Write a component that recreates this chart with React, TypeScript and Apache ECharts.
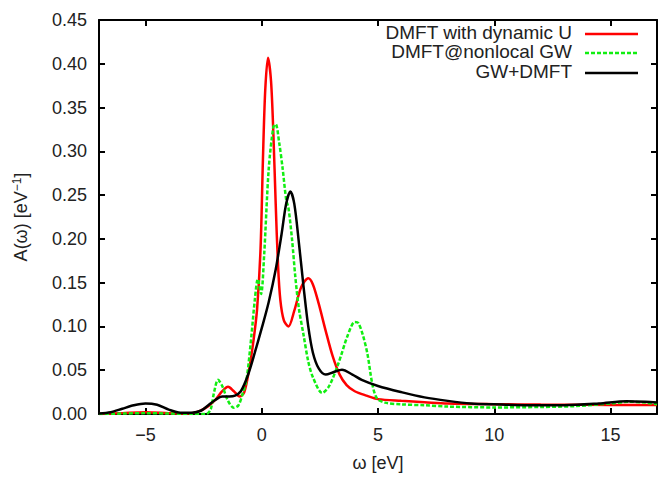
import React, { useEffect, useRef } from "react";
import * as echarts from "echarts";

const seriesNames = ["DMFT with dynamic U", "DMFT@nonlocal GW", "GW+DMFT"];
const xTicks = [-5, 0, 5, 10, 15];

const redData: [number, number][] = [
  [-7, 0.0], [-6, 0.001], [-5, 0.002], [-4, 0.001], [-3.2, 0.0005], [-2.7, 0.003],
  [-2.3, 0.009], [-2.0, 0.016], [-1.7, 0.026], [-1.45, 0.031], [-1.2, 0.026],
  [-0.95, 0.02], [-0.75, 0.025], [-0.55, 0.05], [-0.35, 0.085], [-0.2, 0.12],
  [-0.05, 0.19], [0.05, 0.29], [0.15, 0.37], [0.27, 0.407], [0.4, 0.38], [0.5, 0.32],
  [0.6, 0.24], [0.7, 0.17], [0.8, 0.13], [0.95, 0.107], [1.15, 0.1], [1.4, 0.118],
  [1.7, 0.145], [2.0, 0.155], [2.2, 0.148], [2.45, 0.126], [2.75, 0.095], [3.05, 0.066],
  [3.35, 0.045], [3.65, 0.033], [4.0, 0.026], [4.5, 0.021], [5.0, 0.017], [6, 0.015],
  [7, 0.0135], [8, 0.012], [10, 0.0112], [12, 0.0108], [14, 0.0105], [16, 0.0103], [17, 0.0102],
];

const greenData: [number, number][] = [
  [-7, 0.0], [-6, 0.0005], [-5, 0.001], [-4, 0.0005], [-3, 0.0], [-2.4, 0.0],
  [-2.2, 0.005], [-2.05, 0.025], [-1.88, 0.039], [-1.7, 0.032], [-1.45, 0.015],
  [-1.2, 0.007], [-1.0, 0.01], [-0.8, 0.025], [-0.65, 0.04], [-0.45, 0.088],
  [-0.3, 0.13], [-0.17, 0.154], [-0.03, 0.137], [0.1, 0.18], [0.3, 0.28], [0.5, 0.328],
  [0.6, 0.331], [0.75, 0.31], [0.9, 0.28], [1.05, 0.245], [1.15, 0.235], [1.3, 0.2],
  [1.45, 0.155], [1.6, 0.12], [1.8, 0.09], [2.0, 0.06], [2.2, 0.042], [2.6, 0.024],
  [2.9, 0.032], [3.3, 0.058], [3.7, 0.09], [4.0, 0.105], [4.15, 0.104], [4.35, 0.09],
  [4.55, 0.068], [4.75, 0.035], [4.95, 0.018], [5.3, 0.013], [6, 0.011], [7, 0.01],
  [8, 0.0085], [10, 0.0075], [12, 0.008], [13.5, 0.009], [15, 0.012], [15.8, 0.014],
  [16.5, 0.013], [17, 0.011],
];

const blackData: [number, number][] = [
  [-7, 0.0005], [-6.5, 0.002], [-6, 0.006], [-5.5, 0.01], [-5.0, 0.012], [-4.5, 0.0105],
  [-4.0, 0.005], [-3.5, 0.0015], [-3.0, 0.0015], [-2.6, 0.004], [-2.3, 0.01], [-2.0, 0.016],
  [-1.7, 0.02], [-1.4, 0.02], [-1.15, 0.021], [-0.9, 0.026], [-0.6, 0.044], [-0.3, 0.07],
  [0.0, 0.098], [0.3, 0.128], [0.6, 0.165], [0.85, 0.205], [1.05, 0.24], [1.23, 0.254],
  [1.4, 0.24], [1.6, 0.195], [1.8, 0.145], [2.0, 0.1], [2.2, 0.07], [2.45, 0.052],
  [2.75, 0.045], [3.1, 0.048], [3.45, 0.0505], [3.9, 0.045], [4.3, 0.039], [5.0, 0.032],
  [6.0, 0.025], [7.0, 0.019], [8.0, 0.015], [9.0, 0.012], [10, 0.011], [11.5, 0.01],
  [13, 0.01], [14.5, 0.012], [15.7, 0.0147], [16.5, 0.014], [17, 0.013],
];

const colors = ["#ff0000", "#11ee11", "#000000"];
const FONT = "'Liberation Sans', Arial, Helvetica, sans-serif";

export default function App() {
  const ref = useRef<HTMLDivElement>(null);
  useEffect(() => {
    if (!ref.current) return;
    document.body.style.margin = "0";
    const chart = echarts.init(ref.current, undefined, { renderer: "svg" });
    const axisLine = { show: true, onZero: false, lineStyle: { color: "#000", width: 2 } };
    const tickStyle = { show: true, inside: true, length: 6, lineStyle: { color: "#000", width: 2 } };
    const fmtMinus = (v: number) => String(v).replace("-", "\u2212");
    const legendY = [34, 53, 73];
    chart.setOption({
      animation: false,
      textStyle: { fontFamily: FONT },
      grid: { left: 99, right: 1, top: 20, bottom: 59, containLabel: false },
      xAxis: [
        {
          type: "value", min: -7, max: 17, position: "bottom",
          name: "ω [eV]", nameLocation: "middle", nameGap: 40,
          nameTextStyle: { fontSize: 18, color: "#222", fontFamily: FONT },
          axisLine, splitLine: { show: false },
          axisTick: { ...tickStyle, customValues: xTicks },
          axisLabel: { customValues: xTicks, formatter: fmtMinus, fontSize: 18, color: "#222", margin: 12, fontFamily: FONT },
        },
        {
          type: "value", min: -7, max: 17, position: "top",
          axisLine, splitLine: { show: false },
          axisTick: { ...tickStyle, customValues: xTicks },
          axisLabel: { show: false, customValues: xTicks },
        },
      ],
      yAxis: [
        {
          type: "value", min: 0, max: 0.45, interval: 0.05, position: "left",
          name: "A(ω) [eV{sup|\u22121}]", nameLocation: "middle", nameGap: 68, nameRotate: 90,
          nameTextStyle: {
            fontSize: 18, color: "#222", fontFamily: FONT,
            rich: { sup: { fontSize: 12, verticalAlign: "top", padding: [0, 0, 8, 0], color: "#222", fontFamily: FONT } },
          },
          axisLine, splitLine: { show: false }, axisTick: tickStyle,
          axisLabel: { formatter: (v: number) => v.toFixed(2), fontSize: 18, color: "#222", margin: 12, fontFamily: FONT },
        },
        {
          type: "value", min: 0, max: 0.45, interval: 0.05, position: "right",
          axisLine, splitLine: { show: false }, axisTick: tickStyle,
          axisLabel: { show: false },
        },
      ],
      series: [
        { name: seriesNames[0], type: "line", data: redData, showSymbol: false, smooth: 0.3, lineStyle: { color: colors[0], width: 2.5 }, z: 3 },
        { name: seriesNames[1], type: "line", data: greenData, showSymbol: false, smooth: 0.3, lineStyle: { color: colors[1], width: 2.5, type: [4, 2] }, z: 4 },
        { name: seriesNames[2], type: "line", data: blackData, showSymbol: false, smooth: 0.3, lineStyle: { color: colors[2], width: 2.5 }, z: 5 },
      ],
      graphic: seriesNames.flatMap((n, i) => [
        {
          type: "text", right: 658 - 572, top: legendY[i] - 11,
          style: { text: n, fontSize: 19, fill: "#222", fontFamily: FONT, textAlign: "right" },
        },
        {
          type: "line",
          shape: { x1: 585, y1: legendY[i], x2: 638, y2: legendY[i] },
          style: { stroke: colors[i], lineWidth: 2.5, lineDash: i === 1 ? [4, 2] : undefined },
        },
      ]),
    });
    return () => chart.dispose();
  }, []);
  return <div ref={ref} style={{ width: 658, height: 477 }} />;
}
